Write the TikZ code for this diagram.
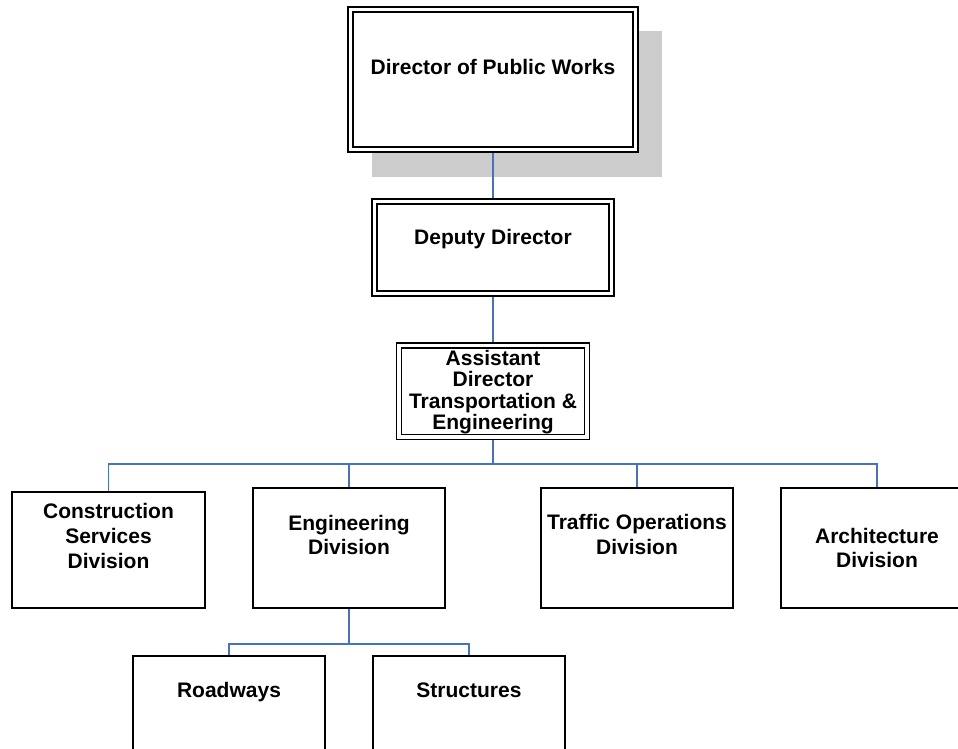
\documentclass[tikz,border=0pt]{standalone}
\usepackage{fontspec}
\setmainfont{Liberation Sans}
\usepackage{tikz}
\usetikzlibrary{backgrounds}
\definecolor{orgblue}{RGB}{68,114,196}
\definecolor{shadowgray}{RGB}{204,204,204}
\newcommand{\boxlines}[4]{\parbox[c][#2][t]{#1}{\centering\rule{0pt}{#3}#4}}

\begin{document}
\begin{tikzpicture}[x=1pt, y=-1pt,
  office/.style={draw, fill=white, line width=1.6pt, inner sep=0pt, outer sep=0pt, font=\bfseries\fontsize{21}{25}\selectfont},
  senior/.style={office, line width=1.4pt, double, double distance=3.4pt},
  link/.style={orgblue, line width=1.5pt}]
\useasboundingbox (0,0) rectangle (958,748);
\clip (0,0) rectangle (958,748);
\node[senior] (dpw) at (493,79.5) {\boxlines{285pt}{140pt}{64.5pt}{Director of Public Works}};
\node[senior] (dep) at (493,247.5) {\boxlines{237pt}{92pt}{42.5pt}{Deputy Director}};
\node[senior, font=\bfseries\fontsize{21}{21.5}\selectfont] (ast) at (493,391.25) {\boxlines{188pt}{91.5pt}{19.5pt}{Assistant\\Director\\Transportation \&\\Engineering}};
\node[office] (csd) at (108.5,550) {\boxlines{193pt}{116pt}{26pt}{Construction\\Services\\Division}};
\node[office, font=\bfseries\fontsize{21}{24}\selectfont] (eng) at (349,548) {\boxlines{192pt}{120pt}{42pt}{Engineering\\Division}};
\node[office] (tod) at (637,548) {\boxlines{192pt}{120pt}{41pt}{Traffic Operations\\Division}};
\node[office, font=\bfseries\fontsize{21}{24}\selectfont] (arc) at (877,548) {\boxlines{192pt}{120pt}{55pt}{Architecture\\Division}};
\node[office] (road) at (229,716) {\boxlines{192pt}{120pt}{41pt}{Roadways}};
\node[office] (str) at (469,716) {\boxlines{192pt}{120pt}{41pt}{Structures}};
\coordinate (split) at (493,464);
\coordinate (subsplit) at (349,644);
\begin{scope}[on background layer]
% shadow of the top box
\fill[shadowgray] (372,31) rectangle (662,177);
\draw[link] (dpw.south) -- (dep.north);
\draw[link] (dep.south) -- (ast.north);
\draw[link] (ast.south) -- (split);
\foreach \dept in {csd,eng,tod,arc}
  \draw[link] (\dept.north) |- (split);
\draw[link] (eng.south) -- (subsplit);
\foreach \dept in {road,str}
  \draw[link] (\dept.north) |- (subsplit);
\end{scope}
\end{tikzpicture}
\end{document}
